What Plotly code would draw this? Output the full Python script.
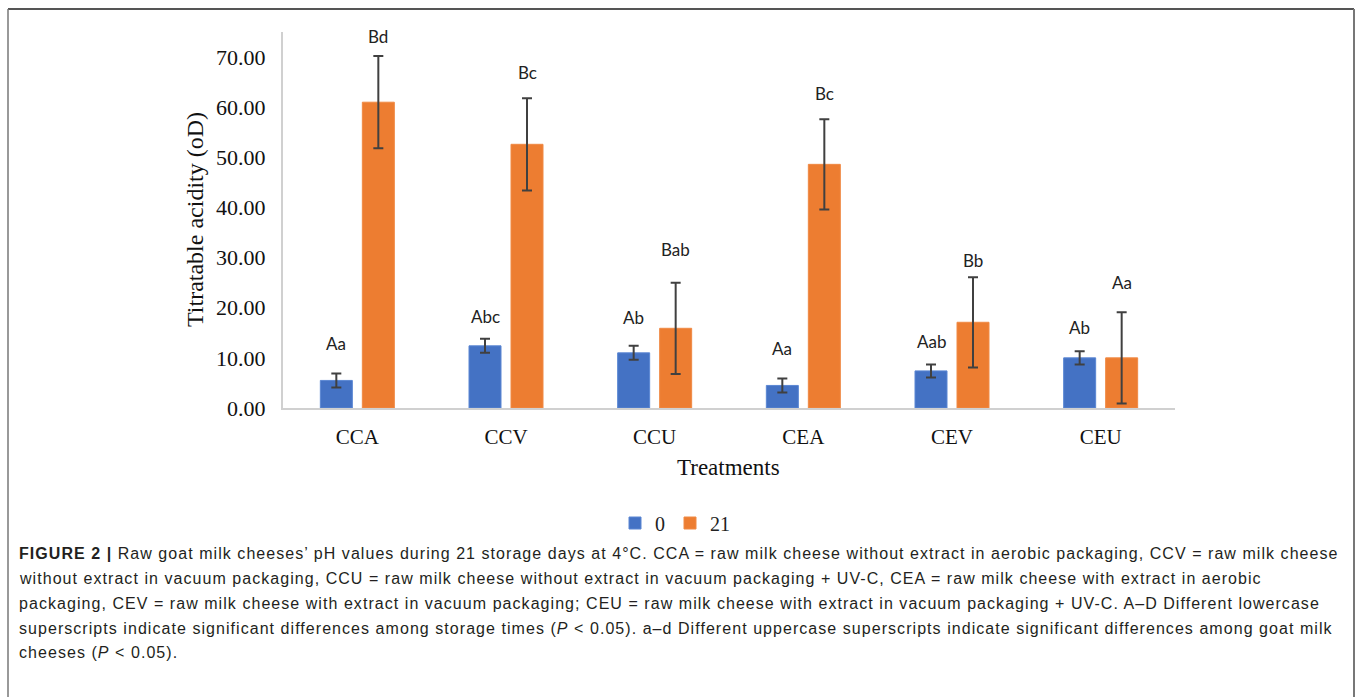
import plotly.graph_objects as go

# Treatments and titratable acidity (oD) at day 0 and day 21 of storage
treatments = ["CCA", "CCV", "CCU", "CEA", "CEV", "CEU"]
day0_mean = [5.5, 12.4, 11.0, 4.5, 7.4, 10.0]
day0_sd = [1.4, 1.4, 1.4, 1.4, 1.3, 1.3]
day21_mean = [61.0, 52.6, 15.9, 48.6, 17.1, 10.0]
day21_sd = [9.2, 9.2, 9.1, 9.0, 9.0, 9.1]
day0_letters = ["Aa", "Abc", "Ab", "Aa", "Aab", "Ab"]
day21_letters = ["Bd", "Bc", "Bab", "Bc", "Bb", "Aa"]
y_ticks = [0, 10, 20, 30, 40, 50, 60, 70]
y_ticktext = ["0.00", "10.00", "20.00", "30.00", "40.00", "50.00", "60.00", "70.00"]

caption_lines = [
    "<b>FIGURE 2 |</b> Raw goat milk cheeses’ pH values during 21 storage days at 4°C. CCA = raw milk cheese without extract in aerobic packaging, CCV = raw milk cheese",
    "without extract in vacuum packaging, CCU = raw milk cheese without extract in vacuum packaging + UV-C, CEA = raw milk cheese with extract in aerobic",
    "packaging, CEV = raw milk cheese with extract in vacuum packaging; CEU = raw milk cheese with extract in vacuum packaging + UV-C. A–D Different lowercase",
    "superscripts indicate significant differences among storage times (<i>P</i> &lt; 0.05). a–d Different uppercase superscripts indicate significant differences among goat milk",
    "cheeses (<i>P</i> &lt; 0.05).",
]

# ---- page geometry (pixels) ----
FIG_W, FIG_H = 1357, 697
PL, PR, PT, PB = 283, 1175, 32, 408
PW, PH = PR - PL, PB - PT


def px_x(px):
    return (px - PL) / PW


def px_y(py):
    return (PB - py) / PH


SERIF = "Liberation Serif, Times New Roman, serif"
SANS = "Liberation Sans, Arial, sans-serif"
LABEL_FONT = "Lato, Calibri, sans-serif"
BLUE = "#4472C4"
ORANGE = "#ED7D31"
ERR = "#404040"

fig = go.Figure()
fig.add_trace(go.Bar(
    name="0", x=treatments, y=day0_mean,
    marker=dict(color=BLUE, line=dict(color="#5a86d3", width=1)),
    error_y=dict(type="data", array=day0_sd, color=ERR, thickness=2, width=5),
))
fig.add_trace(go.Bar(
    name="21", x=treatments, y=day21_mean,
    marker=dict(color=ORANGE, line=dict(color="#f08a45", width=1)),
    error_y=dict(type="data", array=day21_sd, color=ERR, thickness=2, width=5),
))

annotations = []
# significance letters above each error bar
day0_shift = [30, 22, 28, 30, 23, 24]
day21_shift = [20, 26, 33, 26, 17, 30]
for i, t in enumerate(treatments):
    annotations.append(dict(
        x=t, y=day0_mean[i] + day0_sd[i], xref="x", yref="y",
        text=day0_letters[i], showarrow=False, xshift=-21, yshift=day0_shift[i],
        font=dict(family=LABEL_FONT, size=17, color="#222"), yanchor="middle",
    ))
    annotations.append(dict(
        x=t, y=day21_mean[i] + day21_sd[i], xref="x", yref="y",
        text=day21_letters[i], showarrow=False, xshift=21, yshift=day21_shift[i],
        font=dict(family=LABEL_FONT, size=17, color="#222"), yanchor="middle",
    ))

# axis titles
annotations.append(dict(
    x=px_x(195), y=px_y(220), xref="paper", yref="paper", text="Titratable acidity (oD)",
    textangle=-90, showarrow=False, font=dict(family=SERIF, size=24, color="#111"),
    xanchor="center", yanchor="middle",
))
annotations.append(dict(
    x=px_x(728), y=px_y(467), xref="paper", yref="paper", text="Treatments",
    showarrow=False, font=dict(family=SERIF, size=23, color="#111"),
    xanchor="center", yanchor="middle",
))

# caption block
caption_y = [553, 578, 603, 628, 652]
for line, cy in zip(caption_lines, caption_y):
    annotations.append(dict(
        x=px_x(17), y=px_y(cy), xref="paper", yref="paper",
        text='<span style="letter-spacing:1.05px">' + line + "</span>",
        showarrow=False, xanchor="left", yanchor="middle", align="left",
        font=dict(family=SANS, size=16, color="#231f20"),
    ))

# frame around the figure
shapes = [
    dict(type="line", xref="paper", yref="paper", x0=px_x(8), x1=px_x(1354),
         y0=px_y(9), y1=px_y(9), line=dict(color="#555", width=2)),
    dict(type="line", xref="paper", yref="paper", x0=px_x(8), x1=px_x(8),
         y0=px_y(9), y1=px_y(700), line=dict(color="#777", width=1.5)),
    dict(type="line", xref="paper", yref="paper", x0=px_x(1354), x1=px_x(1354),
         y0=px_y(9), y1=px_y(700), line=dict(color="#777", width=2)),
]

fig.update_layout(
    width=FIG_W, height=FIG_H,
    margin=dict(l=PL, r=FIG_W - PR, t=PT, b=FIG_H - PB, pad=0),
    paper_bgcolor="white", plot_bgcolor="white",
    barmode="group", bargap=0.435, bargroupgap=0.238,
    showlegend=True,
    legend=dict(orientation="h", x=px_x(675), y=px_y(523), xanchor="center", yanchor="middle",
                font=dict(family=SERIF, size=20, color="#222"), itemwidth=30,
                traceorder="normal"),
    annotations=annotations,
    shapes=shapes,
    xaxis=dict(
        showline=True, linecolor="#d0d0d0", linewidth=2, showgrid=False, zeroline=False,
        ticks="", tickfont=dict(family=SERIF, size=21, color="#111"), ticklabelstandoff=9,
    ),
    yaxis=dict(
        range=[0, 75], tickvals=y_ticks, ticktext=y_ticktext,
        showline=True, linecolor="#d0d0d0", linewidth=2, showgrid=False, zeroline=False,
        ticks="", tickfont=dict(family=SERIF, size=22, color="#111"), ticklabelstandoff=11,
    ),
)

fig.write_html("out.html")
